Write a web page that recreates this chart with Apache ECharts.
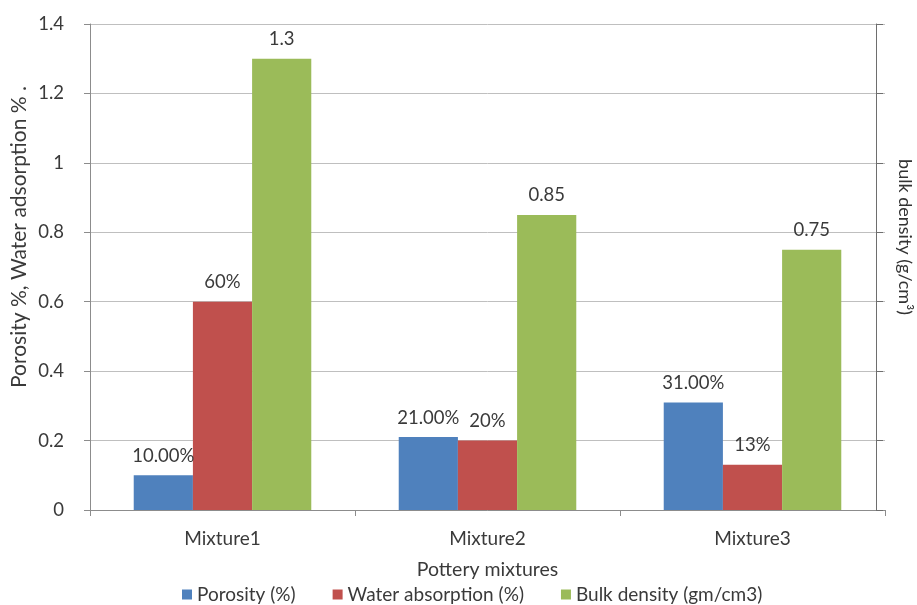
<!DOCTYPE html>
<html>
<head>
<meta charset="utf-8">
<script src="https://cdn.jsdelivr.net/npm/echarts@6/dist/echarts.min.js"></script>
<style>
  html, body { margin: 0; padding: 0; background: #fff; }
  #chart { width: 917px; height: 605px; }
</style>
</head>
<body>
<div id="chart"></div>
<script>
// Pottery mixtures: porosity, water absorption and bulk density
const categories = ['Mixture1', 'Mixture2', 'Mixture3'];
const porosity = [0.10, 0.21, 0.31];
const waterAbsorption = [0.60, 0.20, 0.13];
const bulkDensity = [1.3, 0.85, 0.75];
const seriesNames = ['Porosity (%)', 'Water absorption (%)', 'Bulk density (gm/cm3)'];
const yMin = 0, yMax = 1.4, yStep = 0.2;

const FONT = 'Lato';
const TEXT = '#3a3a3a';

const chart = echarts.init(document.getElementById('chart'), null, { renderer: 'canvas' });

const labelStyle = (fmt) => ({
  show: true,
  position: 'top',
  distance: 10,
  fontFamily: FONT,
  fontSize: 18.5,
  color: TEXT,
  formatter: (p) => fmt(p.value)
});

chart.setOption({
  animation: false,
  backgroundColor: '#ffffff',
  grid: { left: 90, right: 32, top: 24, bottom: 95, containLabel: false },
  legend: {
    left: 182,
    top: 585,
    padding: 0,
    itemWidth: 10,
    itemHeight: 10,
    itemGap: 37,
    icon: 'rect',
    textStyle: { fontFamily: FONT, fontSize: 19, color: TEXT },
    data: seriesNames
  },
  xAxis: {
    type: 'category',
    data: categories,
    name: 'Pottery mixtures',
    nameLocation: 'middle',
    nameGap: 50,
    nameTextStyle: { fontFamily: FONT, fontSize: 19.5, color: TEXT },
    axisLine: { show: true, lineStyle: { color: '#8c8c8c', width: 1 } },
    axisTick: { show: true, length: 6, lineStyle: { color: '#8c8c8c' } },
    axisLabel: { margin: 19, fontFamily: FONT, fontSize: 19, color: TEXT }
  },
  yAxis: [
    {
      type: 'value',
      min: yMin,
      max: yMax,
      interval: yStep,
      position: 'left',
      axisLine: { show: true, lineStyle: { color: '#8c8c8c', width: 1 } },
      axisTick: { show: true, length: 6, lineStyle: { color: '#8c8c8c' } },
      axisLabel: { margin: 26, fontFamily: FONT, fontSize: 18.5, color: TEXT },
      splitLine: { show: true, lineStyle: { color: '#bfbfbf', width: 1 } }
    },
    {
      type: 'value',
      min: yMin,
      max: yMax,
      interval: yStep,
      position: 'right',
      offset: -9,
      axisLine: { show: true, onZero: false, lineStyle: { color: '#6e6e6e', width: 1 } },
      axisTick: { show: true, length: 7, lineStyle: { color: '#6e6e6e' } },
      axisLabel: { show: false },
      splitLine: { show: false }
    }
  ],
  graphic: [
    {
      type: 'text',
      x: 19,
      y: 237,
      rotation: Math.PI / 2,
      style: {
        text: 'Porosity %, Water adsorption % .',
        fontFamily: FONT,
        fontSize: 21,
        fill: TEXT,
        align: 'center',
        verticalAlign: 'middle'
      }
    },
    {
      type: 'text',
      x: 905,
      y: 237,
      rotation: -Math.PI / 2,
      style: {
        text: 'bulk density (g/cm³)',
        fontFamily: FONT,
        fontSize: 18,
        fill: '#333333',
        align: 'center',
        verticalAlign: 'middle'
      }
    }
  ],
  series: [
    {
      name: seriesNames[0],
      type: 'bar',
      data: porosity,
      barGap: '0%',
      barCategoryGap: '33%',
      itemStyle: { color: '#4f81bd' },
      label: labelStyle(v => (v * 100).toFixed(2) + '%')
    },
    {
      name: seriesNames[1],
      type: 'bar',
      data: waterAbsorption,
      barGap: '0%',
      barCategoryGap: '33%',
      itemStyle: { color: '#c0504d' },
      label: labelStyle(v => Math.round(v * 100) + '%')
    },
    {
      name: seriesNames[2],
      type: 'bar',
      data: bulkDensity,
      barGap: '0%',
      barCategoryGap: '33%',
      itemStyle: { color: '#9bbb59' },
      label: labelStyle(v => String(v))
    }
  ]
});
</script>
</body>
</html>
